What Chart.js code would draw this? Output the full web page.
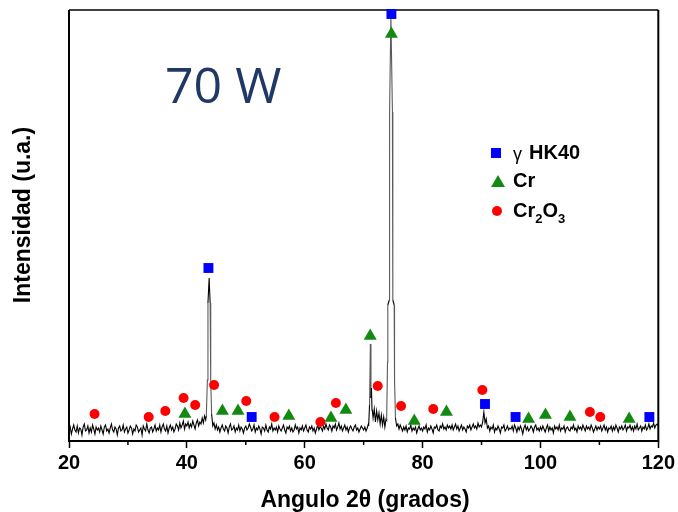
<!DOCTYPE html>
<html lang="es">
<head>
<meta charset="UTF-8">
<title>DRX 70 W</title>
<script src="https://cdn.jsdelivr.net/npm/chart.js@4"></script>
<style>
  html, body { margin: 0; padding: 0; background: #fff; }
  canvas { display: block; }
</style>
</head>
<body>
<canvas id="xrdChart" width="678" height="512"></canvas>
<script>
// barrido 20-120 grados, paso 0.2
const scanStart = 20;
const scanStep = 0.2;
const scanCounts = [
  9,13,6,11,15,10,8,14,7,12,11,5,13,16,9,10,14,7,12,8,15,11,6,13,10,
  12,8,14,10,6,13,15,9,11,7,12,16,10,8,13,11,5,12,14,9,10,15,8,11,13,
  7,10,14,12,6,11,9,15,13,8,10,12,5,14,11,9,16,10,7,12,13,8,11,15,9,
  12,10,15,8,13,16,11,9,14,7,12,15,10,13,8,11,16,14,10,17,12,15,19,11,16,
  14,18,12,16,13,19,15,11,17,20,14,18,16,22,17,24,20,45,137,150,58,22,14,17,11,
  15,10,13,8,12,15,11,9,14,12,7,13,16,10,11,14,8,12,10,15,9,13,11,7,12,
  14,10,12,16,13,9,11,15,8,12,10,14,11,6,13,12,9,15,10,8,13,11,16,9,12,
  10,13,8,14,11,9,12,15,10,7,13,11,14,9,12,8,10,15,11,13,7,12,10,14,9,
  12,15,10,8,13,11,14,9,12,7,11,15,10,13,12,9,14,11,16,12,10,15,13,9,14,
  12,16,10,13,17,11,14,9,12,15,10,13,8,12,14,11,9,13,15,10,12,8,11,14,12,
  10,13,9,12,16,60,45,30,22,31,18,29,20,27,16,25,15,23,13,21,60,135,328,424,328,
  140,70,20,14,16,11,15,12,9,13,10,14,8,12,11,15,9,12,10,13,7,11,14,10,12,
  9,13,11,15,8,12,10,14,11,7,13,12,15,10,9,14,12,16,11,13,10,15,12,14,11,
  15,10,13,16,11,14,9,12,15,10,13,11,8,14,12,15,10,13,16,12,14,11,17,13,15,
  13,18,28,17,21,12,14,9,13,11,15,8,12,10,14,11,7,13,12,15,9,11,14,10,12,
  11,14,9,15,12,8,13,10,14,11,6,12,15,10,13,9,11,14,12,8,13,15,10,12,9,
  13,10,14,11,8,12,15,9,13,10,12,7,14,11,13,10,15,9,12,11,14,8,12,13,10,
  9,13,11,15,10,12,8,14,11,13,10,15,12,9,14,11,13,10,15,12,8,11,14,10,13,
  11,14,9,12,15,10,13,8,12,11,14,9,13,10,15,12,8,13,11,14,10,12,15,9,13,
  12,15,10,13,9,14,11,16,10,12,14,9,13,11,15,10,12,16,11,14,13,17,12,15,16,
  14
];

// picos con mas detalle
const peak44Angles = [43.3, 43.48, 43.58, 43.78, 43.95, 44.05, 44.2];
const peak44Counts = [24, 60, 137, 162, 137, 58, 26];
const peak71Angles = [70.85, 71.0, 71.14, 71.24, 71.32, 71.42, 71.5];
const peak71Counts = [14, 35, 96, 42, 52, 30, 28];
const peak75Angles = [73.9, 74.05, 74.1, 74.35, 74.4, 74.62, 74.88, 74.95, 75.18, 75.24, 75.4];
const peak75Counts = [20, 78, 135, 140, 328, 424, 328, 140, 135, 60, 22];

// fases identificadas
const hk40Angles = [43.66, 51.0, 74.71, 90.59, 95.78, 118.48];
const hk40Counts = [172, 23, 426, 36, 23, 23];
const crAngles = [39.67, 46.03, 48.68, 57.3, 64.45, 66.98, 71.11, 74.71, 78.59, 84.05, 97.98, 100.85, 105.01, 115.05];
const crCounts = [26, 29, 29, 24, 22, 30, 104, 406, 19, 28, 21, 25, 23, 21];
const cr2o3Angles = [24.34, 33.52, 36.34, 39.44, 41.41, 44.62, 50.08, 54.88, 62.66, 65.29, 72.39, 76.35, 81.81, 90.14, 108.39, 110.15];
const cr2o3Counts = [26, 23, 29, 42, 35, 55, 39, 23, 18, 37, 54, 34, 31, 50, 28, 23];

const xMin = 20, xMax = 120;
const xLabelled = [20, 40, 60, 80, 100, 120];
const xMinor = [30, 50, 70, 90, 110];

const FONT = "'Liberation Sans', Arial, sans-serif";
const BLUE = '#0000ff', GREEN = '#128a12', RED = '#ff0000';

// arma el difractograma
const peaks = [[peak44Angles, peak44Counts], [peak71Angles, peak71Counts], [peak75Angles, peak75Counts]];
const pattern = [];
scanCounts.forEach((c, i) => {
  const a = Math.round((scanStart + i * scanStep) * 10) / 10;
  const inPeak = peaks.some(([ang]) => a >= ang[0] && a <= ang[ang.length - 1]);
  if (!inPeak) pattern.push({ x: a, y: c });
});
peaks.forEach(([ang, cnt]) => ang.forEach((a, i) => pattern.push({ x: a, y: cnt[i] })));
pattern.sort((p, q) => p.x - q.x);

const toPts = (xs, ys) => xs.map((x, i) => ({ x: x, y: ys[i] }));

const framePlugin = {
  id: 'frame',
  beforeDatasetsDraw(chart) {
    const { ctx, chartArea: a, scales } = chart;
    ctx.save();
    ctx.strokeStyle = '#000';
    ctx.lineWidth = 2;
    ctx.beginPath();
    ctx.moveTo(a.left, a.top); ctx.lineTo(a.left, a.bottom);
    ctx.lineTo(a.right, a.bottom); ctx.lineTo(a.right, a.top);
    ctx.stroke();
    ctx.lineWidth = 1.5;
    ctx.beginPath();
    ctx.moveTo(a.left, a.top); ctx.lineTo(a.right, a.top);
    ctx.stroke();
    // ticks menores
    xMinor.forEach(v => {
      const px = scales.x.getPixelForValue(v);
      ctx.beginPath();
      ctx.moveTo(px, a.bottom); ctx.lineTo(px, a.bottom + 4);
      ctx.stroke();
    });
    ctx.restore();
  },
  afterDraw(chart) {
    const { ctx } = chart;
    ctx.save();
    // titulo
    ctx.fillStyle = '#1f3864';
    ctx.font = "50px 'Open Sans', sans-serif";
    ctx.textBaseline = 'alphabetic';
    ctx.textAlign = 'left';
    ctx.fillText('70 W', 165, 103);

    // titulos de ejes
    ctx.fillStyle = '#000';
    ctx.font = 'bold 23px ' + FONT;
    ctx.textAlign = 'center';
    ctx.fillText('Angulo 2θ (grados)', 365, 507);
    ctx.save();
    ctx.translate(24, 215);
    ctx.rotate(-Math.PI / 2);
    ctx.textBaseline = 'middle';
    ctx.fillText('Intensidad (u.a.)', 0, 0);
    ctx.restore();

    // leyenda
    ctx.textAlign = 'left';
    ctx.textBaseline = 'middle';
    ctx.fillStyle = BLUE;
    ctx.fillRect(491, 148, 10, 10);
    ctx.fillStyle = GREEN;
    ctx.beginPath();
    ctx.moveTo(498, 175); ctx.lineTo(505, 187); ctx.lineTo(491, 187); ctx.closePath();
    ctx.fill();
    ctx.fillStyle = RED;
    ctx.beginPath();
    ctx.arc(497, 211, 5, 0, Math.PI * 2);
    ctx.fill();

    ctx.fillStyle = '#000';
    ctx.font = '18px ' + FONT;
    ctx.fillText('γ', 513, 155);
    ctx.font = 'bold 20px ' + FONT;
    ctx.fillText('HK40', 529, 153);
    ctx.fillText('Cr', 513, 181);
    let x = 513;
    ctx.fillText('Cr', x, 211); x += ctx.measureText('Cr').width;
    ctx.font = 'bold 13px ' + FONT;
    ctx.fillText('2', x, 219); x += ctx.measureText('2').width;
    ctx.font = 'bold 20px ' + FONT;
    ctx.fillText('O', x, 211); x += ctx.measureText('O').width;
    ctx.font = 'bold 13px ' + FONT;
    ctx.fillText('3', x, 219);
    ctx.restore();
  }
};

new Chart(document.getElementById('xrdChart').getContext('2d'), {
  type: 'scatter',
  data: {
    datasets: [
      {
        label: 'γ HK40', data: toPts(hk40Angles, hk40Counts), order: 0,
        pointStyle: 'rect', pointRadius: 7, backgroundColor: BLUE, borderWidth: 0, clip: false
      },
      {
        label: 'Cr', data: toPts(crAngles, crCounts), order: 0,
        pointStyle: 'triangle', pointRadius: 7.5, backgroundColor: GREEN, borderWidth: 0, clip: false
      },
      {
        label: 'Cr2O3', data: toPts(cr2o3Angles, cr2o3Counts), order: 0,
        pointStyle: 'circle', pointRadius: 5, backgroundColor: RED, borderWidth: 0, clip: false
      },
      {
        label: 'DRX', data: pattern, order: 1, showLine: true,
        borderColor: '#000', borderWidth: 1.1, pointRadius: 0, tension: 0,
        segment: {
          borderColor: c => Math.abs(c.p1.parsed.y - c.p0.parsed.y) > 30 ? '#5a5a5a' : '#000'
        }
      }
    ]
  },
  options: {
    responsive: false,
    animation: false,
    devicePixelRatio: 1,
    layout: { padding: { top: 10, right: 17, left: 0, bottom: 0 } },
    plugins: { legend: { display: false }, tooltip: { enabled: false } },
    scales: {
      x: {
        type: 'linear', min: xMin, max: xMax,
        border: { display: false },
        grid: {
          display: true, drawOnChartArea: false, drawTicks: true,
          tickLength: 7, tickWidth: 1.5,
          tickColor: c => xLabelled.includes(c.tick.value) ? '#000' : 'rgba(0,0,0,0)'
        },
        ticks: {
          stepSize: 10, autoSkip: false, maxRotation: 0, padding: 3,
          color: '#000', font: { family: FONT, size: 20, weight: 'bold' },
          callback: v => xLabelled.includes(v) ? v : ''
        },
        afterFit(s) { s.height = 71; }
      },
      y: {
        min: -1, max: 430,
        border: { display: false },
        grid: { display: false },
        ticks: { display: false },
        afterFit(s) { s.width = 69; }
      }
    }
  },
  plugins: [framePlugin]
});
</script>
</body>
</html>
